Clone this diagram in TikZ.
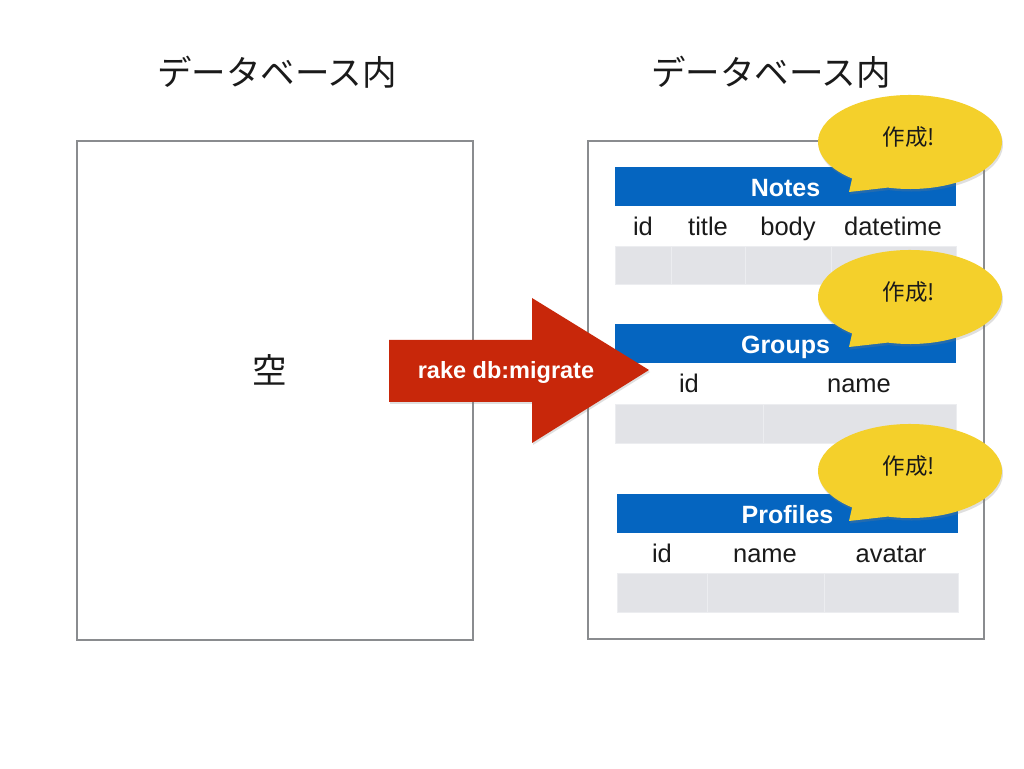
\documentclass[tikz,border=0pt]{standalone}
\usepackage{fontspec}
\setmainfont{Liberation Sans}
\newfontfamily\jp{Noto Sans CJK JP}
\usetikzlibrary{shadows}
\definecolor{hdrblue}{HTML}{0565C0}
\definecolor{cellgray}{HTML}{E2E3E7}
\definecolor{celledge}{HTML}{ECEDF0}
\definecolor{boxgray}{HTML}{8A8C8F}
\definecolor{callyellow}{HTML}{F4D02B}
\definecolor{arrowred}{HTML}{C8270A}
\definecolor{txt}{HTML}{1A1A1A}
\tikzset{
  dbbox/.style={draw=boxgray, line width=1.6pt, fill=white, inner sep=0pt, outer sep=0pt},
  title/.style={font=\jp\fontsize{34.5}{40}\selectfont, text=txt},
  hdr/.style={fill=hdrblue, text=white, font=\bfseries\fontsize{25}{30}\selectfont, inner sep=0pt, outer sep=0pt, minimum height=39pt, text height=20pt, text depth=0pt},
  field/.style={font=\fontsize{25.5}{30}\selectfont, text=txt, inner sep=0pt, anchor=base},
  cell/.style={fill=cellgray, draw=celledge, line width=0.8pt, inner sep=0pt, outer sep=0pt},
  bubble/.style={fill=callyellow, drop shadow={opacity=0.25, shadow xshift=1pt, shadow yshift=-2.5pt}},
  bubbletext/.style={font=\jp\fontsize{22.5}{26}\selectfont, text=txt},
  arrowlabel/.style={font=\bfseries\fontsize{23.5}{28}\selectfont, text=white}
}
\begin{document}
\begin{tikzpicture}[x=1pt,y=1pt]
\useasboundingbox[fill=white] (0,0) rectangle (1024,768);
% titles
\node[title] (tl) at (277,696) {データベース内};
\node[title] (tr) at (771,696) {データベース内};
% database boxes
\node[dbbox, minimum width=396pt, minimum height=499pt] (left) at (275,377.5) {};
\node[title] (empty) at (270,398) {空};
\node[dbbox, minimum width=396pt, minimum height=498pt] (right) at (786,378) {};
% Notes table
\node[hdr, minimum width=341pt] (notesH) at (785.5,581.5) {Notes};
\node[field] (n1) at (643,532) {id};
\node[field] (n2) at (708,532) {title};
\node[field] (n3) at (788,532) {body};
\node[field] (n4) at (893,532) {datetime};
\node[cell, minimum width=56pt, minimum height=38pt] (nc1) at (643,503) {};
\node[cell, minimum width=74pt, minimum height=38pt] (nc2) at (708,503) {};
\node[cell, minimum width=86pt, minimum height=38pt] (nc3) at (788,503) {};
\node[cell, minimum width=125pt, minimum height=38pt] (nc4) at (893.5,503) {};
% Groups table
\node[hdr, minimum width=341pt] (groupsH) at (785.5,424) {Groups};
\node[field] (g1) at (689,375) {id};
\node[field] (g2) at (859,375) {name};
\node[cell, minimum width=148pt, minimum height=39pt] (gc1) at (689,344.5) {};
\node[cell, minimum width=193pt, minimum height=39pt] (gc2) at (859.5,344.5) {};
% Profiles table
\node[hdr, minimum width=341pt] (profilesH) at (787.5,254.5) {Profiles};
\node[field] (p1) at (662,205) {id};
\node[field] (p2) at (765,205) {name};
\node[field] (p3) at (891,205) {avatar};
\node[cell, minimum width=90pt, minimum height=39pt] (pc1) at (662,175.5) {};
\node[cell, minimum width=117pt, minimum height=39pt] (pc2) at (765.5,175.5) {};
\node[cell, minimum width=134pt, minimum height=39pt] (pc3) at (891,175.5) {};
% callouts
\foreach \cy/\nm in {626/c1, 471/c2, 297/c3}{
  \path[bubble] (910,\cy) ++(256:92pt and 47pt)
      arc[start angle=256, end angle=591, x radius=92pt, y radius=47pt]
      -- (849,\cy-50) -- cycle;
  \node[bubbletext] (\nm) at (909,\cy+5) {作成!};
}
% arrow
\path[fill=arrowred, drop shadow={opacity=0.25, shadow xshift=1pt, shadow yshift=-2pt}]
  (389,428) -- (532,428) -- (532,470) -- (649,398) -- (532,325) -- (532,366) -- (389,366) -- cycle;
\node[arrowlabel] (cmd) at (506,396) {rake db:migrate};
\end{tikzpicture}
\end{document}
